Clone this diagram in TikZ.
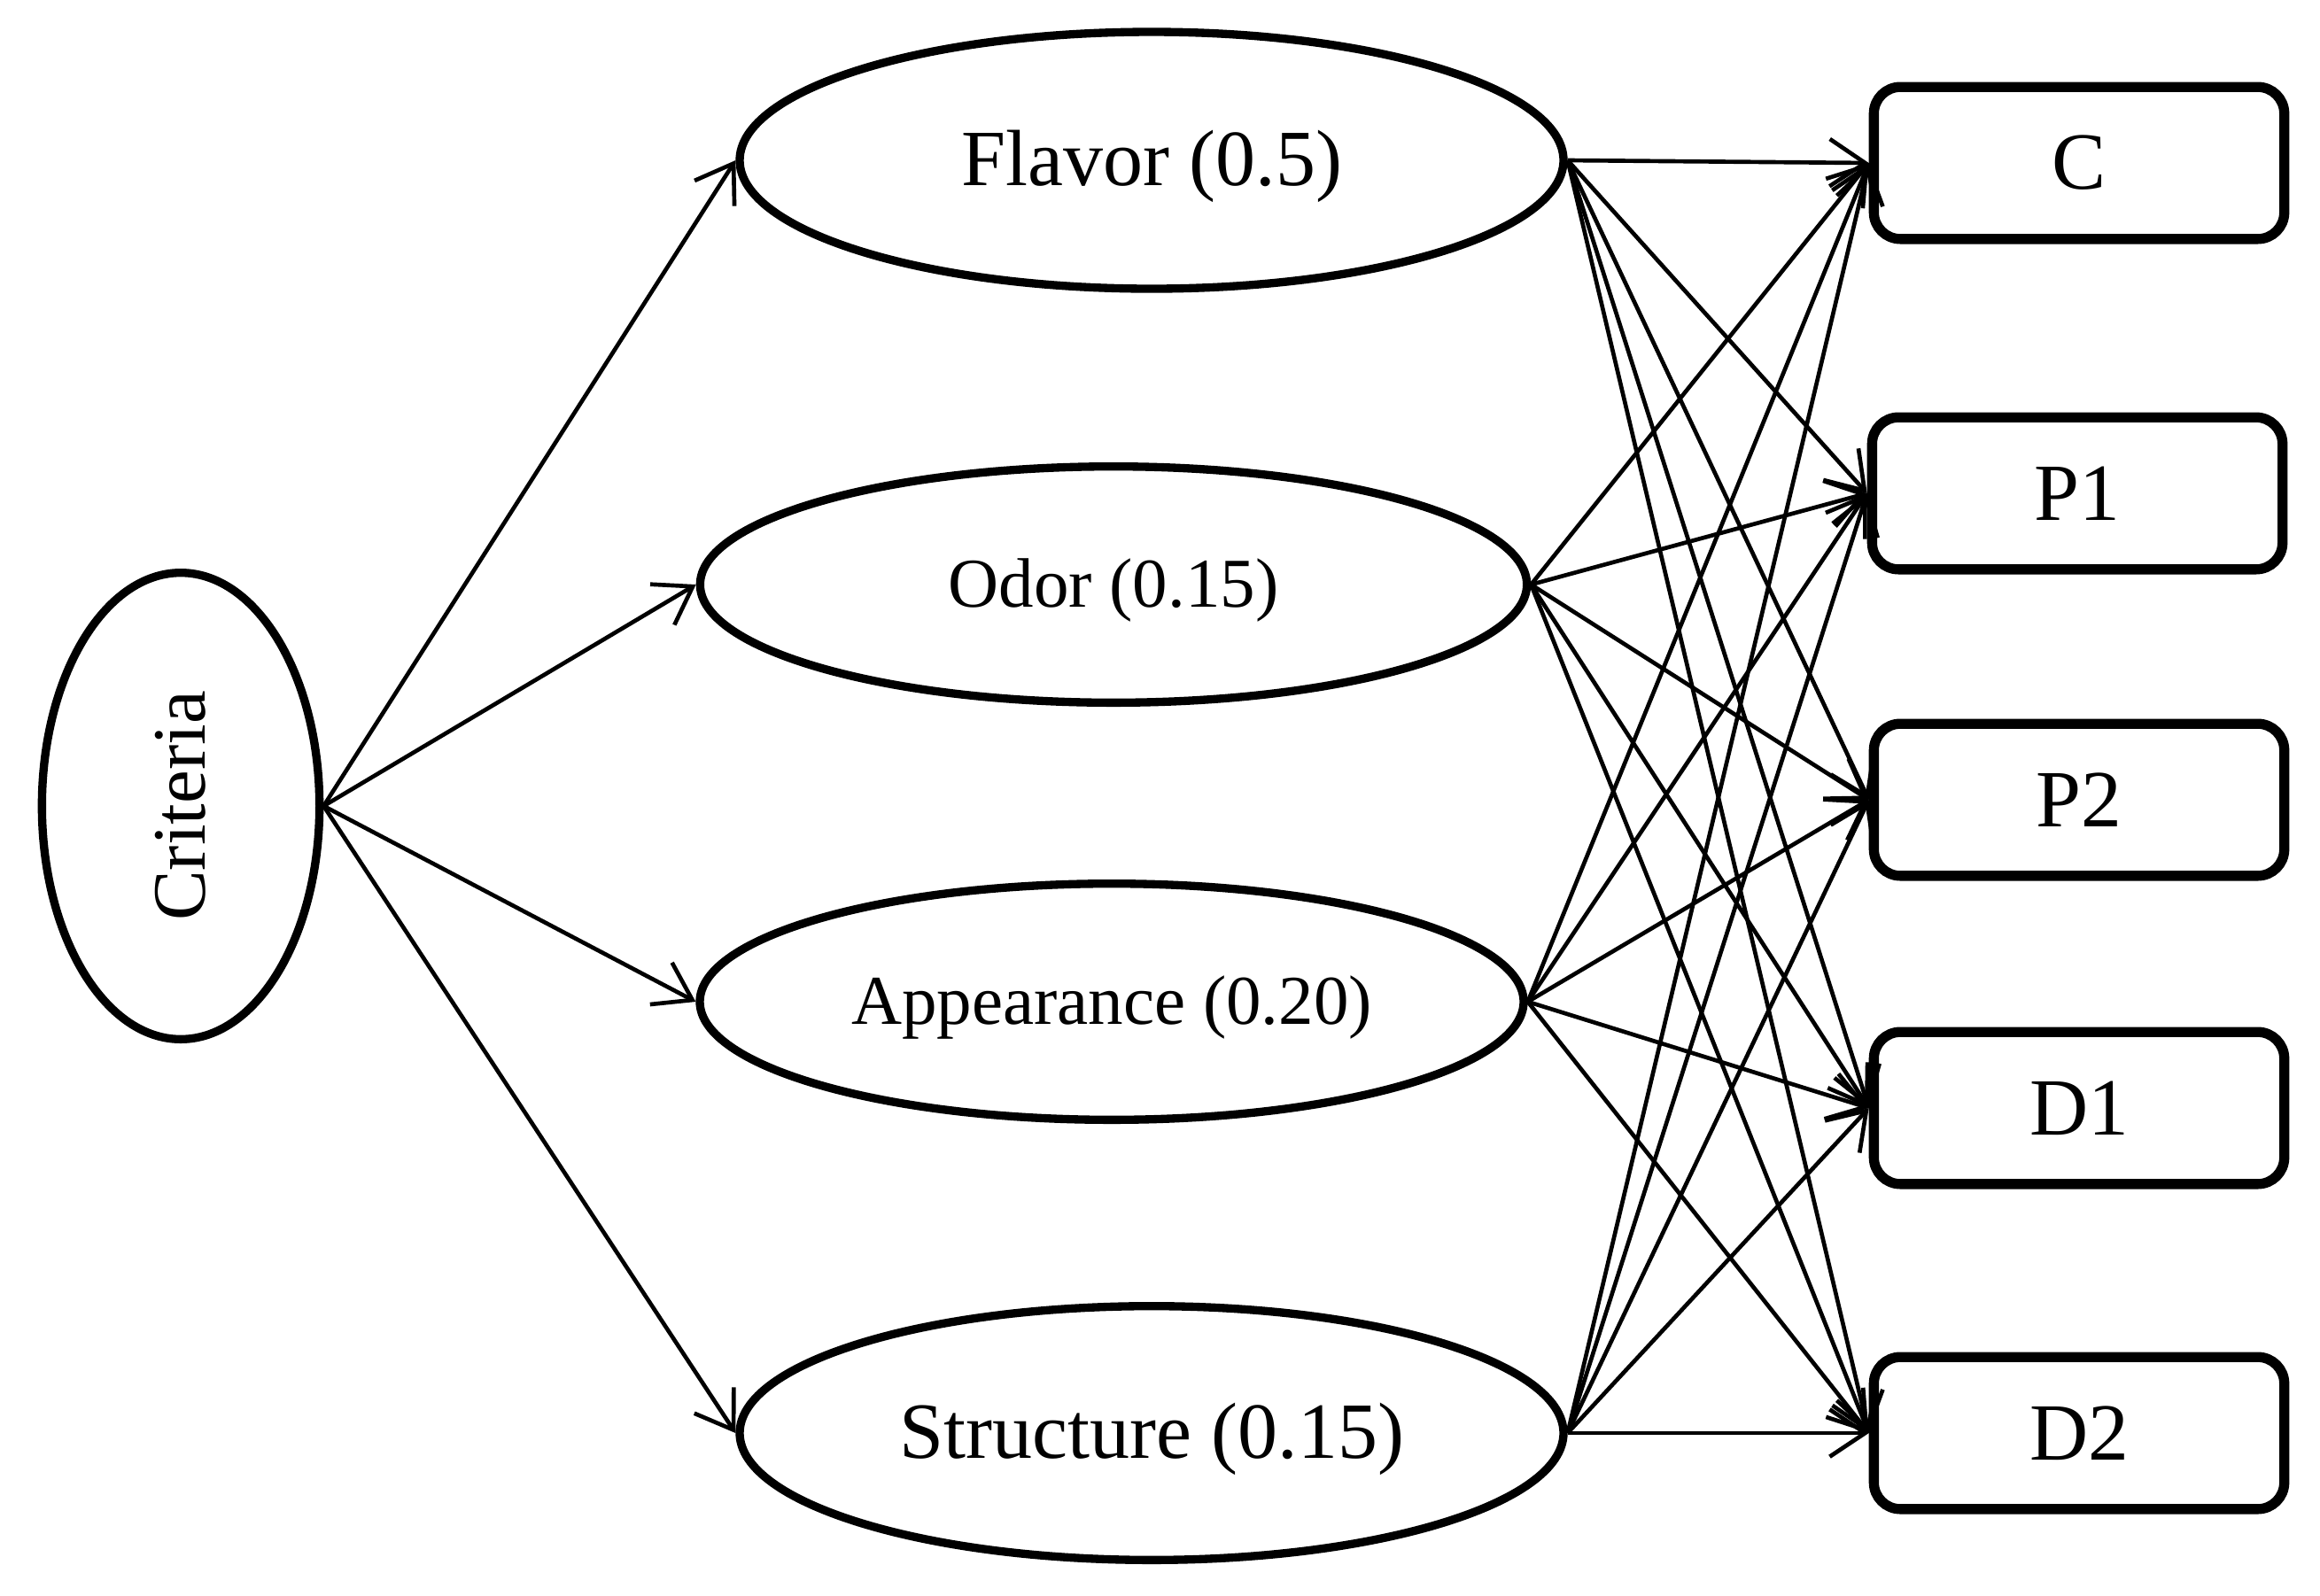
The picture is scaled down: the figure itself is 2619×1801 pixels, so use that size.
\documentclass[tikz,border=0pt]{standalone}
\usepackage{fontspec}
\setmainfont{Liberation Serif}
\usetikzlibrary{shapes.geometric,arrows.meta}
\newcommand{\lowr}[1]{\raisebox{-2pt}[\height][\depth]{#1}}
\begin{document}
\begin{tikzpicture}[x=0.3pt,y=-0.3pt,
  crit/.style={ellipse,draw,line width=2.8pt,inner sep=0pt},
  alt/.style={rectangle,draw,line width=3.4pt,rounded corners=9pt,inner sep=0pt,
    minimum width=139pt,minimum height=51.5pt,font=\fontsize{27.5}{30}\selectfont},
  big/.style={font=\fontsize{27}{30}\selectfont},
  small/.style={font=\fontsize{23.7}{26}\selectfont},
  arr/.style={line width=1.4pt,-{Straight Barb[length=12pt,width=16pt,line width=1.4pt]}}]
\useasboundingbox (0,0) rectangle (2619,1801);
\node[crit,minimum width=94pt,minimum height=158pt] (cri) at (204,910)
  {\rotatebox{90}{\fontsize{25.5}{28}\selectfont Criteria}};
\node[crit,big,minimum width=279pt,minimum height=87pt] (fla) at (1300,181) {\lowr{Flavor (0.5)}};
\node[crit,small,minimum width=280pt,minimum height=80pt] (odo) at (1257,660) {\lowr{Odor (0.15)}};
\node[crit,small,minimum width=279pt,minimum height=80pt] (app) at (1255,1131) {\lowr{Appearance (0.20)}};
\node[crit,big,minimum width=279pt,minimum height=86pt] (str) at (1300,1618) {\lowr{Structure (0.15)}};
\node[alt] (c) at (2347,184) {C};
\node[alt] (p1) at (2345,557) {P1};
\node[alt] (p2) at (2347,903) {P2};
\node[alt] (d1) at (2347,1251) {D1};
\node[alt] (d2) at (2347,1618) {D2};
\foreach \t in {fla,odo,app,str}{
  \draw[arr] (cri.east) -- (\t.west);
}
\foreach \s in {fla,odo,app,str}{
  \foreach \t in {c,p1,p2,d1,d2}{
    \draw[arr] (\s.east) -- (\t.west);
  }
}
\end{tikzpicture}
\end{document}
